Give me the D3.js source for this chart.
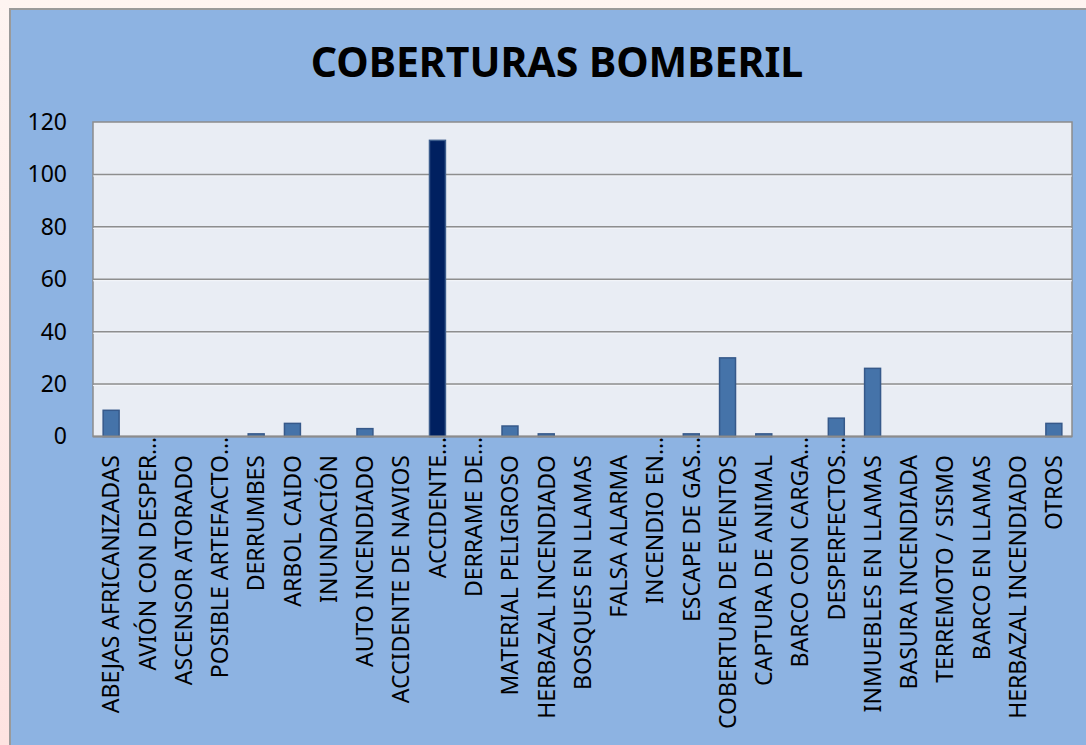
<!DOCTYPE html>
<html>
<head>
<meta charset="utf-8">
<script src="https://cdn.jsdelivr.net/npm/d3@7"></script>
<style>
  html, body { margin: 0; padding: 0; }
  body { width: 1086px; height: 745px; overflow: hidden; }
  text { font-family: "Noto Sans", sans-serif; }
</style>
</head>
<body>
<div id="chart-area"></div>
<script>
/*
*    coberturas bomberil
*/

const categories = [
    "ABEJAS AFRICANIZADAS", "AVIÓN CON DESPER…", "ASCENSOR ATORADO", "POSIBLE ARTEFACTO…",
    "DERRUMBES", "ARBOL CAIDO", "INUNDACIÓN", "AUTO INCENDIADO", "ACCIDENTE DE NAVIOS",
    "ACCIDENTE…", "DERRAME DE…", "MATERIAL PELIGROSO", "HERBAZAL INCENDIADO",
    "BOSQUES EN LLAMAS", "FALSA ALARMA", "INCENDIO EN…", "ESCAPE DE GAS…",
    "COBERTURA DE EVENTOS", "CAPTURA DE ANIMAL", "BARCO CON CARGA…", "DESPERFECTOS…",
    "INMUEBLES EN LLAMAS", "BASURA INCENDIADA", "TERREMOTO / SISMO", "BARCO EN LLAMAS",
    "HERBAZAL INCENDIADO", "OTROS"
];
const values = [10, 0, 0, 0, 1, 5, 0, 3, 0, 113, 0, 4, 1, 0, 0, 0, 1, 30, 1, 0, 7, 26, 0, 0, 0, 0, 5];
const highlighted = ["ACCIDENTE…"];
const yTicks = [0, 20, 40, 60, 80, 100, 120];

// el indice sirve de clave porque hay categorias repetidas
const data = categories.map((c, i) => ({i: i, category: c, value: values[i]}));

const width = 1086;
const height = 745;
const plot = {left: 93, right: 1072, top: 122, bottom: 436.5};
const labelSize = "23px";

const svg = d3.select("#chart-area")
    .append("svg")
    .attr("width", width)
    .attr("height", height);

const defs = svg.append("defs");
const bg = defs.append("linearGradient")
    .attr("id", "pageBg")
    .attr("x1", 0).attr("y1", 0).attr("x2", 0).attr("y2", 1);
bg.append("stop").attr("offset", "0%").attr("stop-color", "#fef4f1");
bg.append("stop").attr("offset", "100%").attr("stop-color", "#fde3e1");

svg.append("rect")
    .attr("width", width)
    .attr("height", height)
    .attr("fill", "url(#pageBg)");

// caja azul del grafico
svg.append("rect")
    .attr("x", 10)
    .attr("y", 9)
    .attr("width", width + 20)
    .attr("height", height + 20)
    .attr("fill", "#8db3e2")
    .attr("stroke", "#9a9a9a")
    .attr("stroke-width", 2);

svg.append("text")
    .attr("x", 557)
    .attr("y", 77)
    .attr("text-anchor", "middle")
    .attr("font-size", "41px")
    .attr("font-weight", "bold")
    .attr("fill", "#000")
    .text("COBERTURAS BOMBERIL");

const x = d3.scaleBand()
    .domain(d3.range(categories.length))
    .range([plot.left, plot.right])
    .paddingInner(0.56)
    .paddingOuter(0.28);

const y = d3.scaleLinear()
    .domain([0, 120])
    .range([plot.bottom, plot.top]);

svg.append("rect")
    .attr("x", plot.left)
    .attr("y", plot.top)
    .attr("width", plot.right - plot.left)
    .attr("height", plot.bottom - plot.top)
    .attr("fill", "#e9edf4")
    .attr("stroke", "#8c8c8c")
    .attr("stroke-width", 1.5);

// lineas de cuadricula
const grid = svg.append("g");
grid.selectAll("line.shadow")
    .data(yTicks.slice(1, -1))
    .enter()
    .append("line")
        .attr("class", "shadow")
        .attr("x1", plot.left)
        .attr("x2", plot.right)
        .attr("y1", d => y(d) + 1.5)
        .attr("y2", d => y(d) + 1.5)
        .attr("stroke", "#f4f6fa")
        .attr("stroke-width", 1);
grid.selectAll("line.major")
    .data(yTicks.slice(1, -1))
    .enter()
    .append("line")
        .attr("class", "major")
        .attr("x1", plot.left)
        .attr("x2", plot.right)
        .attr("y1", d => y(d))
        .attr("y2", d => y(d))
        .attr("stroke", "#8e8e8e")
        .attr("stroke-width", 1.5);

const leftAxis = d3.axisLeft(y)
    .tickValues(yTicks)
    .tickSize(0)
    .tickPadding(26);

const yAxis = svg.append("g")
    .attr("class", "left axis")
    .attr("transform", "translate(" + plot.left + ",0)")
    .call(leftAxis);
yAxis.select(".domain").remove();
yAxis.selectAll("text")
    .attr("font-family", "Noto Sans, sans-serif")
    .attr("font-size", labelSize)
    .attr("fill", "#000");

// barras
svg.selectAll("rect.bar")
    .data(data.filter(d => d.value > 0))
    .enter()
    .append("rect")
        .attr("class", "bar")
        .attr("x", d => x(d.i))
        .attr("y", d => y(d.value))
        .attr("width", x.bandwidth())
        .attr("height", d => plot.bottom - y(d.value))
        .attr("fill", d => highlighted.includes(d.category) ? "#002060" : "#4573a9")
        .attr("stroke", d => highlighted.includes(d.category) ? "#3b5c8c" : "#36598a")
        .attr("stroke-width", 1.5);

svg.append("line")
    .attr("x1", plot.left)
    .attr("x2", plot.right)
    .attr("y1", plot.bottom)
    .attr("y2", plot.bottom)
    .attr("stroke", "#8c8c8c")
    .attr("stroke-width", 2);

// etiquetas del eje x (rotadas)
const labelTop = 455;
const labels = svg.append("g").attr("class", "x labels");
data.forEach(d => {
    const cx = x(d.i) + x.bandwidth() / 2;
    const lg = labels.append("g")
        .attr("transform", "translate(" + cx + "," + labelTop + ") rotate(-90)");
    const cut = d.category.endsWith("…");
    lg.append("text")
        .attr("text-anchor", "end")
        .attr("dy", "0.36em")
        .attr("font-size", labelSize)
        .attr("fill", "#000")
        .text(cut ? d.category.slice(0, -1) : d.category);
    if (cut) {
        lg.append("text")
            .attr("text-anchor", "start")
            .attr("dy", "0.36em")
            .attr("font-size", labelSize)
            .attr("fill", "#000")
            .text("…");
    }
});
</script>
</body>
</html>
